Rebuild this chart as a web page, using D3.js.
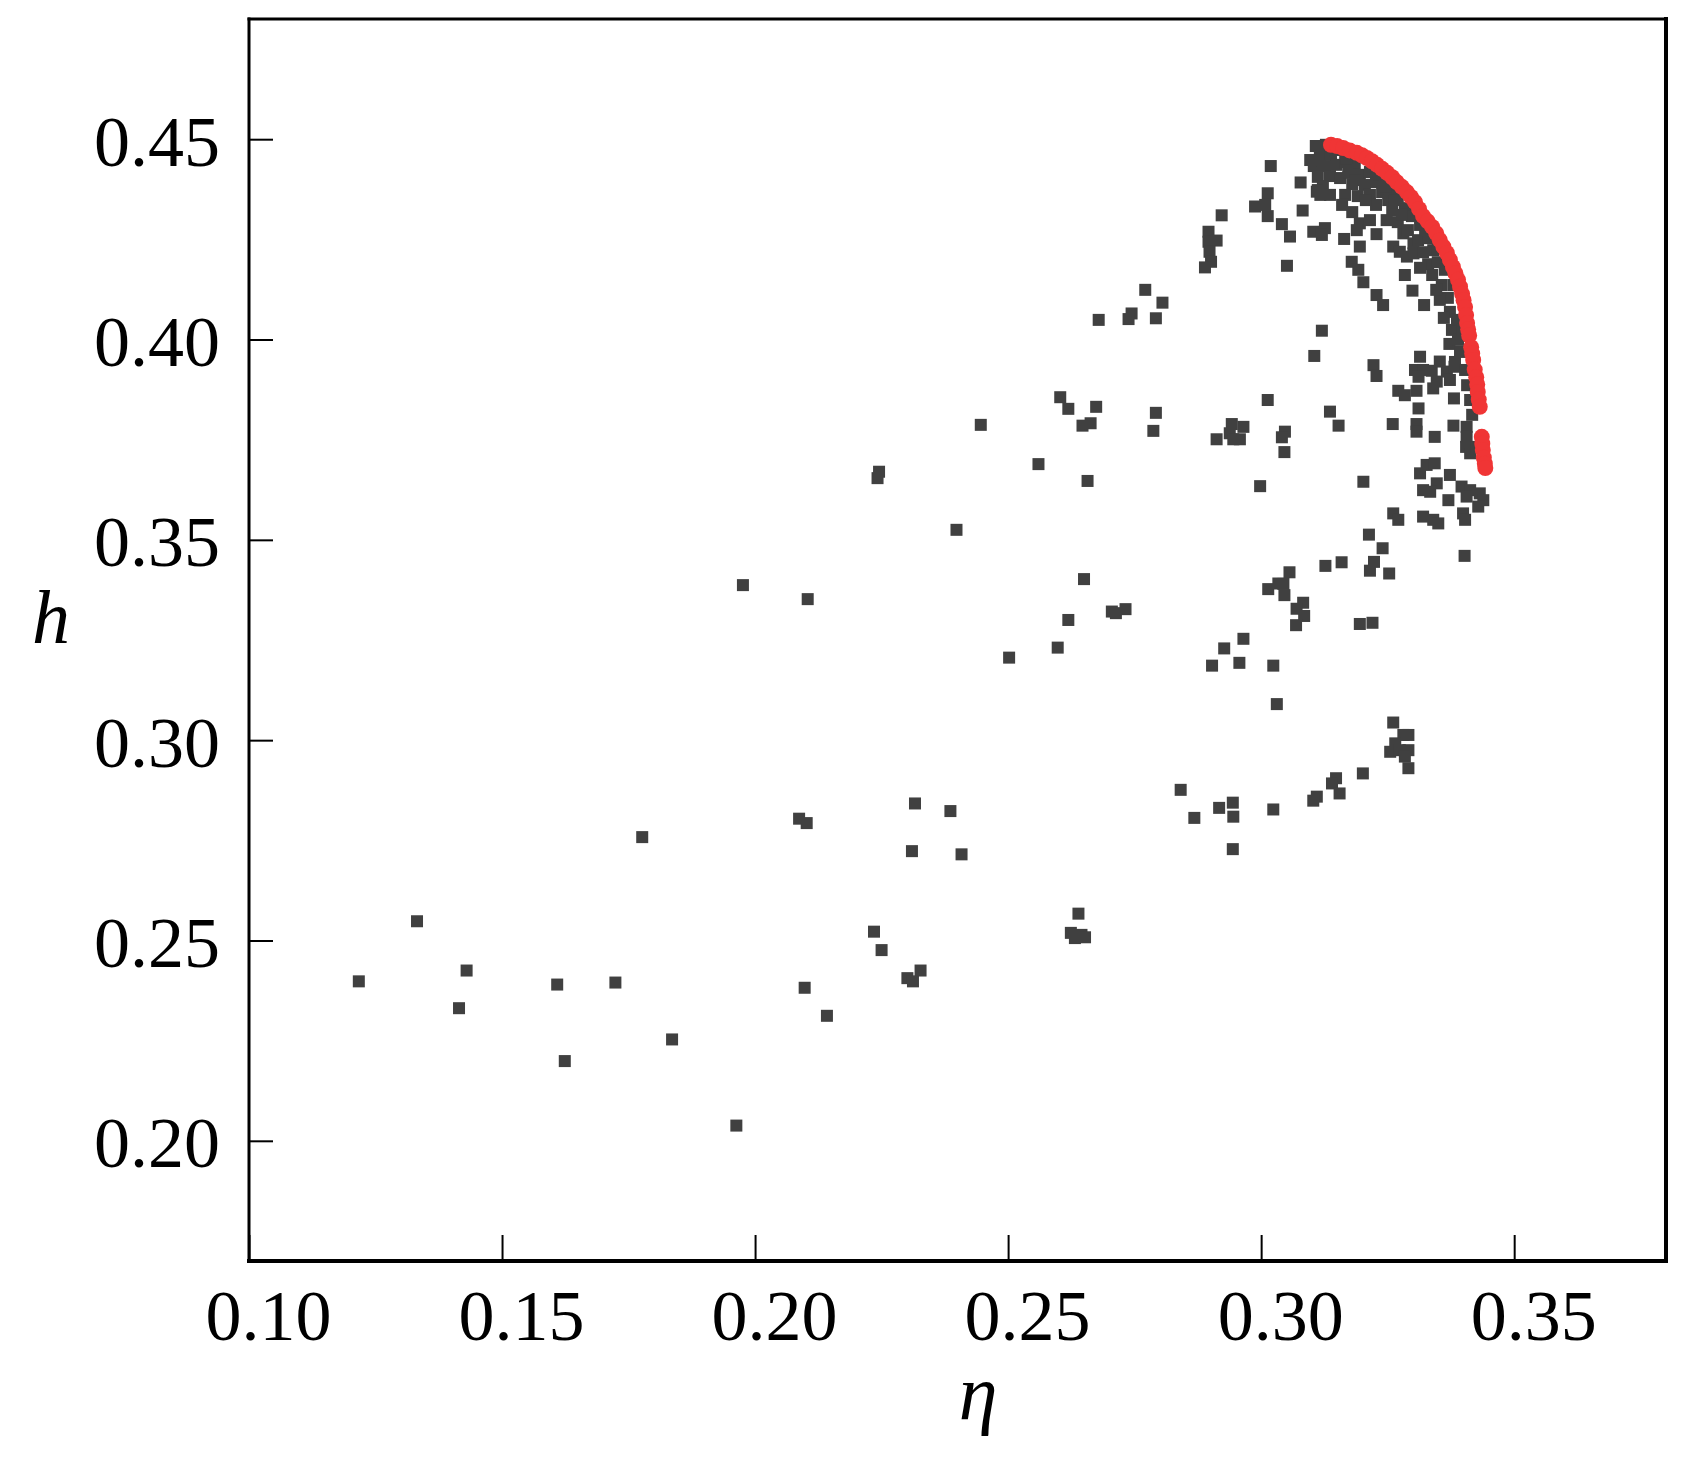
<!DOCTYPE html>
<html><head><meta charset="utf-8">
<script src="https://cdn.jsdelivr.net/npm/d3@7"></script>
<style>html,body{margin:0;padding:0;background:#fff;} svg{display:block;}</style>
</head><body>
<svg id="chart" width="1687" height="1459"></svg>
<script>
const xTicks = [0.10, 0.15, 0.20, 0.25, 0.30, 0.35];
const yTicks = [0.20, 0.25, 0.30, 0.35, 0.40, 0.45];
const xDomain = [0.10, 0.38];
const yDomain = [0.17, 0.48];
const xTitle = "η";
const yTitle = "h";

// dominated solutions (grey)
const grayPoints = [
[0.1217,0.2398],[0.1332,0.2548],[0.1430,0.2425],[0.1415,0.2331],[0.1609,0.2390],[0.1624,0.2199],
[0.1724,0.2395],[0.1777,0.2758],[0.1836,0.2253],[0.1963,0.2038],[0.1976,0.3387],[0.2104,0.3352],
[0.2087,0.2804],[0.2102,0.2793],[0.2098,0.2382],[0.2142,0.2312],[0.2235,0.2522],[0.2250,0.2476],
[0.2301,0.2406],[0.2312,0.2398],[0.2327,0.2425],[0.2316,0.2842],[0.2310,0.2723],[0.2386,0.2823],
[0.2408,0.2715],[0.2639,0.2567],[0.2624,0.2519],[0.2645,0.2514],[0.2632,0.2506],[0.2652,0.2508],
[0.2242,0.3654],[0.2245,0.3670],[0.2398,0.3525],[0.2446,0.3787],
[0.2560,0.3689],[0.2657,0.3647],[0.2650,0.3402],[0.2619,0.3300],[0.2705,0.3321],[0.2713,0.3317],
[0.2732,0.3327],[0.2598,0.3231],[0.2502,0.3206],[0.2965,0.3253],[0.2927,0.3229],[0.2957,0.3193],
[0.2903,0.3186],[0.2603,0.3856],[0.2619,0.3827],[0.2674,0.3832],[0.2647,0.3785],[0.2663,0.3791],
[0.2679,0.4049],[0.2744,0.4065],[0.2738,0.4051],[0.2771,0.4124],[0.2805,0.4092],[0.2792,0.4053],
[0.2792,0.3817],[0.2787,0.3772],[0.2942,0.3789],[0.2965,0.3782],[0.2912,0.3751],[0.2938,0.3766],
[0.2958,0.3751],[0.2945,0.3751],[0.2998,0.3634],
[0.3019,0.4433],[0.3078,0.4392],[0.3013,0.4365],[0.2988,0.4332],[0.3008,0.4336],[0.3013,0.4308],
[0.3041,0.4288],[0.3057,0.4257],[0.3051,0.4184],[0.2922,0.4310],[0.2896,0.4269],[0.2896,0.4244],
[0.2912,0.4247],[0.2898,0.4219],[0.2901,0.4194],[0.2889,0.4180],[0.3013,0.3849],[0.3082,0.4322],
[0.3110,0.4369],[0.3117,0.4361],[0.3103,0.4269],[0.3126,0.4278],[0.3120,0.4261],[0.3164,0.4251],
[0.3195,0.4290],[0.3215,0.4298],[0.3189,0.4273],[0.3195,0.4232],[0.3228,0.4263],[0.3248,0.4298],
[0.3179,0.4194],[0.3192,0.4174],[0.3202,0.4143],[0.3228,0.4111],[0.3241,0.4086],[0.3261,0.4232],
[0.3274,0.4219],[0.3288,0.4207],[0.3301,0.4240],[0.3281,0.4265],[0.3301,0.4215],[0.3284,0.4161],
[0.3299,0.4122],[0.3322,0.4086],
[0.3120,0.4022],[0.3105,0.3959],[0.3222,0.3936],[0.3228,0.3909],[0.3314,0.3957],[0.3304,0.3924],
[0.3320,0.3924],[0.3311,0.3907],[0.3337,0.3922],[0.3353,0.3945],[0.3367,0.3920],[0.3347,0.3895],
[0.3373,0.3899],[0.3340,0.3878],[0.3382,0.3932],[0.3372,0.3989],[0.3271,0.3872],[0.3284,0.3861],
[0.3307,0.3872],[0.3311,0.3828],[0.3381,0.3853],[0.3136,0.3820],[0.3153,0.3785],[0.3047,0.3770],
[0.3041,0.3756],[0.3046,0.3719],[0.3260,0.3789],[0.3307,0.3789],[0.3307,0.3770],[0.3343,0.3757],
[0.3380,0.3785],[0.3406,0.3782],[0.3406,0.3757],[0.3405,0.3732],[0.3413,0.3716],[0.3426,0.3732],
[0.3202,0.3645],[0.3314,0.3666],[0.3327,0.3687],[0.3343,0.3691],[0.3347,0.3641],[0.3320,0.3624],
[0.3334,0.3620],[0.3373,0.3662],[0.3370,0.3599],[0.3396,0.3633],[0.3413,0.3624],[0.3432,0.3616],
[0.3406,0.3608],[0.3439,0.3599],[0.3429,0.3583],[0.3399,0.3566],[0.3261,0.3566],[0.3271,0.3550],
[0.3320,0.3558],[0.3340,0.3550],[0.3350,0.3541],[0.3403,0.3550],
[0.3213,0.3513],[0.3240,0.3479],[0.3223,0.3445],[0.3215,0.3423],[0.3253,0.3416],[0.3402,0.3460],
[0.3127,0.3435],[0.3159,0.3444],[0.3056,0.3419],[0.3014,0.3377],[0.3034,0.3391],[0.3044,0.3390],
[0.3046,0.3362],[0.3083,0.3343],[0.3070,0.3328],[0.3085,0.3310],[0.3069,0.3287],[0.3195,0.3290],
[0.3220,0.3293],[0.3024,0.3186],
[0.3031,0.3090],[0.3261,0.3044],[0.3281,0.3013],[0.3291,0.3013],[0.3265,0.2992],[0.3255,0.2971],
[0.3274,0.2975],[0.3291,0.2975],[0.3284,0.2959],[0.3291,0.2930],[0.3201,0.2917],[0.3148,0.2905],
[0.3140,0.2892],[0.3155,0.2867],[0.3110,0.2859],[0.3103,0.2849],[0.2841,0.2876],[0.3024,0.2827],
[0.2868,0.2806],[0.2917,0.2831],[0.2944,0.2844],[0.2945,0.2809],[0.2944,0.2728],
[0.3108,0.4483],[0.3128,0.4486],[0.3116,0.4458],[0.3138,0.4461],[0.3104,0.4433],[0.3126,0.4433],
[0.3148,0.4436],[0.3112,0.4406],[0.3136,0.4408],[0.3156,0.4403],[0.3122,0.4383],
[0.3166,0.4443],[0.3185,0.4436],[0.3172,0.4416],[0.3195,0.4411],[0.3215,0.4418],[0.3180,0.4388],
[0.3205,0.4386],[0.3227,0.4393],[0.3166,0.4361],[0.3191,0.4358],[0.3215,0.4361],[0.3239,0.4368],
[0.3251,0.4348],[0.3227,0.4336],[0.3255,0.4373],[0.3270,0.4356],[0.3259,0.4323],[0.3284,0.4328],
[0.3298,0.4308],[0.3270,0.4293],[0.3314,0.4286],[0.3290,0.4273],[0.3310,0.4248],[0.3330,0.4253],
[0.3320,0.4218],[0.3340,0.4223],[0.3330,0.4188],[0.3349,0.4193],[0.3338,0.4161],[0.3314,0.4179],
[0.3357,0.4136],[0.3369,0.4104],[0.3353,0.4099],[0.3373,0.4069],[0.3361,0.4054],[0.3377,0.4024],
[0.3389,0.3999],[0.3393,0.3969],[0.3383,0.3944],[0.3403,0.3924],[0.3407,0.3886],[0.3413,0.3849],
[0.3417,0.3812],
[0.3146,0.4473],[0.3168,0.4453],[0.3187,0.4398],[0.3231,0.4411],[0.3245,0.4383],[0.3264,0.4348],
[0.3278,0.4311],[0.3306,0.4313],[0.3324,0.4273],[0.3349,0.4228],[0.3363,0.4174],[0.3346,0.4124],
[0.3381,0.4136],[0.3387,0.4049],[0.3397,0.4024],[0.3097,0.4448],[0.3112,0.4373],[0.3136,0.4361],
[0.3160,0.4336],[0.3207,0.4348],[0.3180,0.4318]
];

// Pareto front (red)
const redPoints = [
[0.3138,0.4486],[0.3150,0.4483],[0.3162,0.4478],[0.3175,0.4472],[0.3189,0.4466],[0.3199,0.4460],
[0.3209,0.4453],[0.3219,0.4445],[0.3229,0.4436],[0.3239,0.4426],[0.3249,0.4416],[0.3259,0.4405],
[0.3268,0.4393],[0.3278,0.4381],[0.3288,0.4368],[0.3296,0.4356],[0.3304,0.4343],[0.3312,0.4326],
[0.3320,0.4308],[0.3329,0.4295],[0.3338,0.4281],[0.3346,0.4265],[0.3353,0.4248],[0.3360,0.4232],
[0.3367,0.4216],[0.3373,0.4199],[0.3379,0.4181],[0.3384,0.4165],[0.3389,0.4149],[0.3393,0.4132],
[0.3397,0.4114],[0.3400,0.4098],[0.3403,0.4081],[0.3405,0.4061],[0.3407,0.4041],[0.3409,0.4025],
[0.3411,0.4010],[0.3415,0.3981],[0.3417,0.3965],[0.3419,0.3949],[0.3422,0.3925],[0.3425,0.3906],
[0.3427,0.3888],[0.3428,0.3869],[0.3430,0.3850],[0.3432,0.3832],[0.3436,0.3757],[0.3437,0.3740],
[0.3438,0.3724],[0.3440,0.3705],[0.3442,0.3690],[0.3443,0.3679]
];

const FONT = "'Liberation Serif','Times New Roman',Times,serif";
const svg = d3.select('#chart');
const L = 249, R = 1666, T = 19, B = 1261;
const x = d3.scaleLinear().domain(xDomain).range([L, R]);
const y = d3.scaleLinear().domain(yDomain).range([B, T]);

// points
svg.append('g').selectAll('rect').data(grayPoints).join('rect')
  .attr('x', d => x(d[0]) - 6).attr('y', d => y(d[1]) - 6)
  .attr('width', 12).attr('height', 12).attr('fill', '#404040');
svg.append('g').selectAll('circle').data(redPoints).join('circle')
  .attr('cx', d => x(d[0])).attr('cy', d => y(d[1])).attr('r', 8)
  .attr('fill', '#f03535');

// axes
const xAxis = d3.axisBottom(x).tickValues(xTicks).tickSize(-26).tickFormat(d3.format('.2f'));
const gx = svg.append('g').attr('transform', `translate(0,${B})`).call(xAxis);
gx.select('.domain').remove();
gx.selectAll('.tick line').attr('stroke', '#000').attr('stroke-width', 2);
gx.selectAll('.tick text').attr('x', 19).attr('y', 79).attr('dy', null)
  .attr('font-family', FONT).attr('font-size', 72).attr('fill', '#000');

const yAxis = d3.axisLeft(y).tickValues(yTicks).tickSize(-24).tickFormat(d3.format('.2f'));
const gy = svg.append('g').attr('transform', `translate(${L},0)`).call(yAxis);
gy.select('.domain').remove();
gy.selectAll('.tick line').attr('stroke', '#000').attr('stroke-width', 2);
gy.selectAll('.tick text').attr('x', -29).attr('y', 26).attr('dy', null)
  .attr('font-family', FONT).attr('font-size', 72).attr('fill', '#000');

// frame
const frame = svg.append('g').attr('stroke', '#000').attr('stroke-linecap', 'square');
frame.append('line').attr('x1', L).attr('x2', R).attr('y1', T).attr('y2', T).attr('stroke-width', 3);
frame.append('line').attr('x1', L).attr('x2', L).attr('y1', T).attr('y2', B).attr('stroke-width', 3);
frame.append('line').attr('x1', L).attr('x2', R).attr('y1', B).attr('y2', B).attr('stroke-width', 4);
frame.append('line').attr('x1', R).attr('x2', R).attr('y1', T).attr('y2', B).attr('stroke-width', 4);

// titles
svg.append('text').attr('x', 978).attr('y', 1419).attr('text-anchor', 'middle')
  .attr('font-family', FONT).attr('font-style', 'italic').attr('font-size', 78).text(xTitle);
svg.append('text').attr('x', 51).attr('y', 643).attr('text-anchor', 'middle')
  .attr('font-family', FONT).attr('font-style', 'italic').attr('font-size', 76).text(yTitle);
</script>
</body></html>
